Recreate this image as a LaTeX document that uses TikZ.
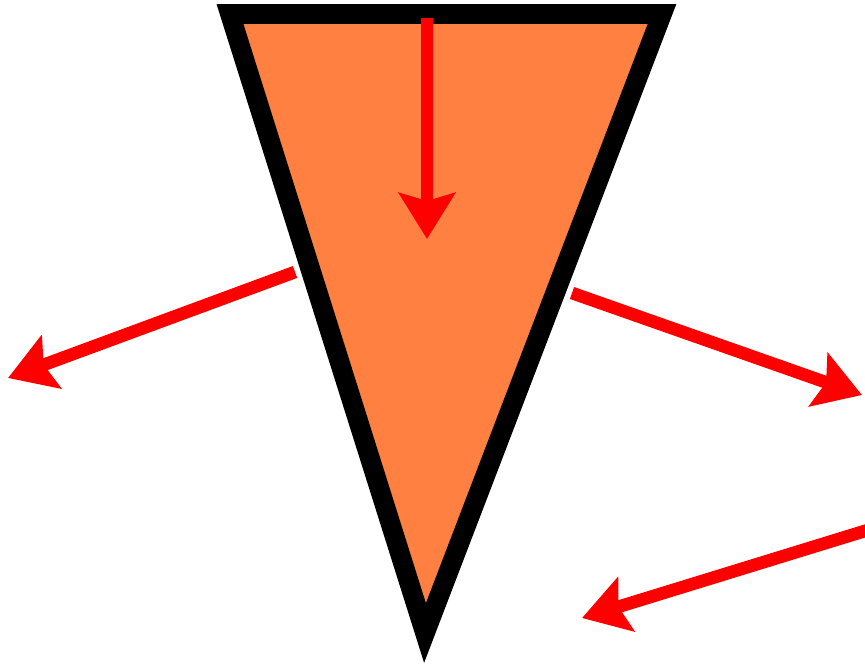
\documentclass[tikz,border=0pt]{standalone}
\usepackage{tikz}
\usepackage{xcolor}
\usetikzlibrary{arrows.meta}
\definecolor{cOrange}{RGB}{255,128,64}
\definecolor{cRed}{RGB}{255,0,0}
\tikzset{
	wedge/.style    ={draw=black, line width=5.6pt, line join=miter, fill=cOrange},
	forcearrow/.style={-{Stealth[length=4.6mm, width=5.6mm, inset=0.8mm]}, draw=cRed, line width=3.6pt},
}
\begin{document}
\begin{tikzpicture}[x=1cm, y=1cm]
			\useasboundingbox (0,0) rectangle (8.65,6.63);
			% wedge corners
			\coordinate (tl) at (2.30,6.49);
			\coordinate (tr) at (6.62,6.49);
			\coordinate (tip) at (4.25,0.30);
			\draw[wedge] (tl) -- (tr) -- (tip) -- cycle;
			% arrow ends
			\coordinate (topin) at (4.27,6.45);
			\coordinate (topout) at (4.27,4.24);
			\coordinate (lin) at (2.95,3.91);
			\coordinate (lout) at (0.08,2.85);
			\coordinate (rin) at (5.72,3.70);
			\coordinate (rout) at (8.62,2.68);
			\coordinate (bin) at (8.68,1.33);
			\coordinate (bout) at (5.82,0.45);
			\draw[forcearrow] (topin) -- (topout);
			\draw[forcearrow] (lin) -- (lout);
			\draw[forcearrow] (rin) -- (rout);
			\draw[forcearrow] (bin) -- (bout);
		\end{tikzpicture}
\end{document}
